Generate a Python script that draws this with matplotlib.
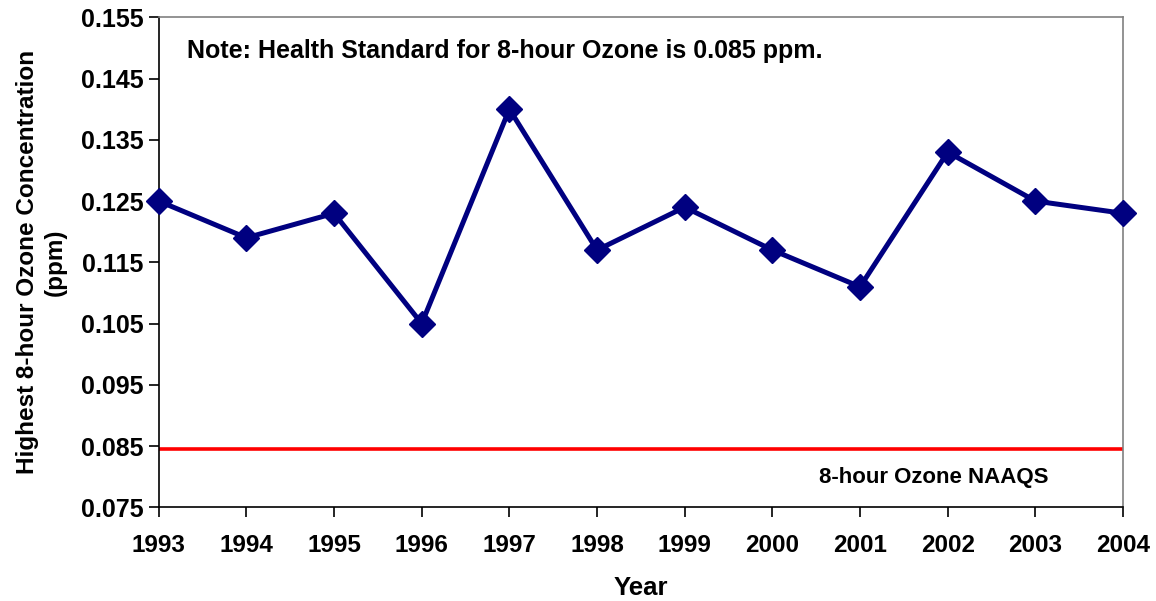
import matplotlib
matplotlib.use("Agg")
import matplotlib.pyplot as plt

years = [1993, 1994, 1995, 1996, 1997, 1998, 1999, 2000, 2001, 2002, 2003, 2004]
ozone = [0.125, 0.119, 0.123, 0.105, 0.140, 0.117, 0.124, 0.117, 0.111, 0.133, 0.125, 0.123]
naaqs = 0.0845
yticks = [0.075, 0.085, 0.095, 0.105, 0.115, 0.125, 0.135, 0.145, 0.155]

plt.rcParams['font.family'] = ['Liberation Sans', 'DejaVu Sans']
plt.rcParams['font.weight'] = 'bold'

fig = plt.figure(figsize=(11.56, 6.01), dpi=100)
ax = fig.add_axes([0.1373, 0.1559, 0.8342, 0.8153])

ax.axhline(naaqs, color='#ff0000', lw=2.6, zorder=2)
ax.plot(years, ozone, color='#000080', lw=3.6, marker='D', markersize=13,
        zorder=3, clip_on=False)

ax.set_xlim(years[0], years[-1])
ax.set_ylim(yticks[0], yticks[-1])
ax.set_xticks(years)
ax.set_xticklabels([str(y) for y in years])
ax.set_yticks(yticks)
ax.set_yticklabels(["%.3f" % v for v in yticks])
ax.tick_params(axis='both', direction='out', length=7, width=1.2, colors='black')
ax.tick_params(axis='x', pad=12, labelsize=17.5)
ax.tick_params(axis='y', pad=4, labelsize=18)
for lbl in ax.get_xticklabels() + ax.get_yticklabels():
    lbl.set_fontweight('bold')

for s in ['left', 'bottom']:
    ax.spines[s].set_color('black')
    ax.spines[s].set_linewidth(1.2)
for s in ['top', 'right']:
    ax.spines[s].set_color('#808080')
    ax.spines[s].set_linewidth(1.2)

ax.set_xlabel('Year', fontsize=18.5, fontweight='bold', labelpad=14)
ax.set_ylabel('Highest 8-hour Ozone Concentration\n(ppm)', fontsize=17.5,
              fontweight='bold', labelpad=10, linespacing=1.25)

ax.text(0.029, 0.932, 'Note: Health Standard for 8-hour Ozone is 0.085 ppm.',
        transform=ax.transAxes, fontsize=18, fontweight='bold', va='center', ha='left')
ax.text(0.923, 0.060, '8-hour Ozone NAAQS', transform=ax.transAxes,
        fontsize=16, fontweight='bold', va='center', ha='right')

fig.savefig('out.png', dpi=100)
